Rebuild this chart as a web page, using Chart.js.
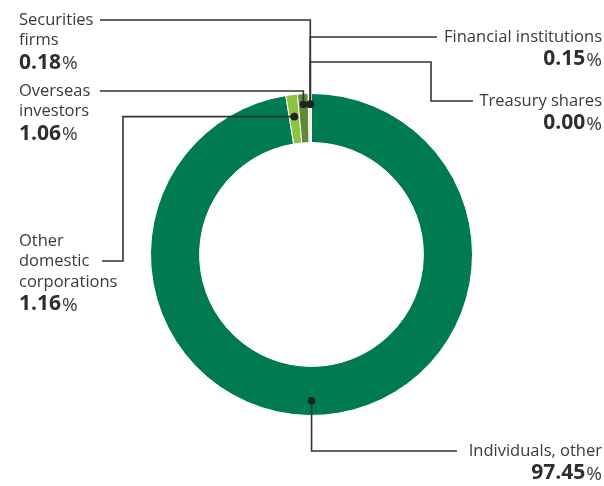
<!DOCTYPE html>
<html>
<head>
<meta charset="utf-8">
<script src="https://cdn.jsdelivr.net/npm/chart.js@4.4.1/dist/chart.umd.min.js"></script>
<style>
  html, body { margin: 0; padding: 0; background: #fff; }
  #wrap { width: 604px; height: 486px; position: relative; }
</style>
</head>
<body>
<div id="wrap"><canvas id="holders"></canvas></div>
<script>
// shareholder breakdown, clockwise from 12 o'clock
var categories = ["Individuals, other", "Other domestic corporations", "Overseas investors", "Securities firms", "Financial institutions", "Treasury shares"];
var shares = [97.45, 1.16, 1.06, 0.18, 0.15, 0.00];
var shareLabels = ["97.45", "1.16", "1.06", "0.18", "0.15", "0.00"];
var sliceColors = ["#007a53", "#8cc43f", "#5c8c37", "#c6dd9a", "#c6dd9a", "#c6dd9a"];

var textColor = "#3a3a3a";
var lineColor = "#333";

// callout layout: where the dot sits inside a slice, the elbows of the leader, and the text block
// the three tiny slices share one dot (anchor = last slice)
var callouts = [
    { i: 0, anchor: 0, at: 0.513, r: 0.7, path: function (d) { return [[d.x, 451], [457, 451]]; },
      lines: ["Individuals, other"], x: 602, y: 451, align: "right" },
    { i: 1, anchor: 1, at: 0.5, r: 0.55, path: function (d) { return [[123, d.y], [123, 261], [102, 261]]; },
      lines: ["Other", "domestic", "corporations"], x: 19, y: 241, align: "left" },
    { i: 2, anchor: 2, at: 0.5, r: 0.78, path: function (d) { return [[d.x, 91], [100, 91]]; },
      lines: ["Overseas", "investors"], x: 19, y: 91, align: "left" },
    { i: 3, anchor: 5, at: 0, r: 0.78, path: function (d) { return [[d.x, 20], [100, 20]]; },
      lines: ["Securities", "firms"], x: 19, y: 20, align: "left" },
    { i: 4, anchor: 5, at: 0, r: 0.78, path: function (d) { return [[d.x, 37], [437, 37]]; },
      lines: ["Financial institutions"], x: 602, y: 37, align: "right" },
    { i: 5, anchor: 5, at: 0, r: 0.78, path: function (d) { return [[d.x, 62], [431, 62], [431, 101], [473, 101]]; },
      lines: ["Treasury shares"], x: 602, y: 101, align: "right" }
];

var calloutPlugin = {
    id: "callouts",
    afterDatasetsDraw: function (chart) {
        var ctx = chart.ctx;
        var arcs = chart.getDatasetMeta(0).data;
        ctx.save();
        callouts.forEach(function (c) {
            var a = arcs[c.anchor].getProps(["x", "y", "startAngle", "endAngle", "innerRadius", "outerRadius"], true);
            var ang = a.startAngle + (a.endAngle - a.startAngle) * c.at;
            if (c.anchor === 5) ang -= 0.008;
            var rad = a.innerRadius + (a.outerRadius - a.innerRadius) * c.r;
            var dot = { x: a.x + Math.cos(ang) * rad, y: a.y + Math.sin(ang) * rad };

            // leader line
            ctx.strokeStyle = lineColor;
            ctx.lineWidth = 1.6;
            ctx.beginPath();
            ctx.moveTo(dot.x, dot.y);
            c.path(dot).forEach(function (p) { ctx.lineTo(p[0], p[1]); });
            ctx.stroke();

            ctx.fillStyle = "#222";
            ctx.beginPath();
            ctx.arc(dot.x, dot.y, 3.8, 0, Math.PI * 2);
            ctx.fill();

            // text block
            ctx.fillStyle = textColor;
            ctx.textBaseline = "middle";
            var y = c.y;
            ctx.font = "16.5px 'Open Sans'";
            c.lines.forEach(function (t) {
                ctx.textAlign = c.align;
                ctx.fillText(t, c.x, y);
                y += 20.5;
            });
            y += 2;
            var num = shareLabels[c.i];
            ctx.font = "bold 21px 'Open Sans'";
            var nw = ctx.measureText(num).width;
            ctx.font = "19px 'Open Sans'";
            var pw = ctx.measureText("%").width;
            var left = c.align === "right" ? c.x - nw - pw - 1 : c.x;
            ctx.textAlign = "left";
            ctx.font = "bold 21px 'Open Sans'";
            ctx.fillStyle = "#2e2e2e";
            ctx.fillText(num, left, y);
            ctx.font = "19px 'Open Sans'";
            ctx.fillStyle = textColor;
            ctx.fillText("%", left + nw + 1, y + 1);
        });
        ctx.restore();
    }
};

new Chart(document.getElementById("holders").getContext("2d"), {
    type: "doughnut",
    data: {
        labels: categories,
        datasets: [{
            data: shares,
            backgroundColor: sliceColors,
            borderColor: "#fff",
            borderWidth: 1
        }]
    },
    options: {
        responsive: true,
        maintainAspectRatio: false,
        animation: false,
        cutout: "69.5%",
        layout: { padding: { left: 150, right: 131, top: 93, bottom: 70 } },
        plugins: {
            legend: { display: false },
            tooltip: { enabled: false }
        }
    },
    plugins: [calloutPlugin]
});
</script>
</body>
</html>
